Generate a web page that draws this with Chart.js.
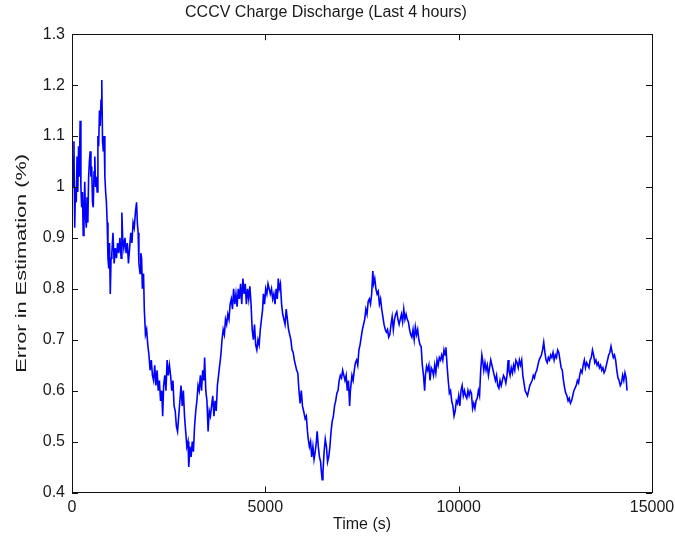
<!DOCTYPE html>
<html>
<head>
<meta charset="utf-8">
<title>CCCV Charge Discharge</title>
<script src="https://cdn.jsdelivr.net/npm/chart.js@4.4.1/dist/chart.umd.min.js"></script>
<style>
  html, body { margin: 0; padding: 0; background: #fff; }
</style>
</head>
<body>
<canvas id="errChart" width="675" height="542"></canvas>
<script>
// values (time in seconds, error in %)
const timeSec = [
  0, 30, 50, 70, 90, 110, 130, 150, 170, 190,
  210, 230, 250, 270, 290, 310, 330, 350, 370, 390,
  410, 430, 450, 470, 490, 510, 530, 550, 570, 590,
  610, 630, 650, 670, 690, 710, 730, 750, 770, 790,
  810, 830, 850, 870, 890, 910, 930, 950, 970, 990,
  1010, 1030, 1060, 1090, 1120, 1150, 1180, 1210, 1240, 1270,
  1290, 1310, 1340, 1370, 1400, 1430, 1460, 1490, 1520, 1550,
  1580, 1610, 1640, 1670, 1690, 1710, 1730, 1760, 1780, 1800,
  1820, 1850, 1870, 1900, 1930, 1960, 1990, 2020, 2050, 2080,
  2110, 2140, 2170, 2200, 2230, 2260, 2290, 2320, 2345, 2370,
  2400, 2430, 2460, 2490, 2520, 2550, 2580, 2610, 2640, 2670,
  2700, 2730, 2760, 2790, 2820, 2850, 2880, 2910, 2940, 2970,
  3000, 3020, 3050, 3080, 3110, 3140, 3170, 3200, 3230, 3260,
  3290, 3320, 3350, 3380, 3410, 3430, 3460, 3490, 3520, 3550,
  3580, 3610, 3640, 3670, 3700, 3730, 3760, 3790, 3820, 3850,
  3880, 3910, 3940, 3970, 4000, 4030, 4060, 4090, 4120, 4150,
  4180, 4210, 4240, 4270, 4300, 4330, 4360, 4390, 4420, 4450,
  4480, 4510, 4540, 4570, 4600, 4630, 4660, 4690, 4720, 4750,
  4780, 4810, 4840, 4870, 4900, 4930, 4950, 4980, 5010, 5040,
  5070, 5100, 5130, 5160, 5190, 5220, 5250, 5280, 5310, 5335,
  5360, 5390, 5420, 5450, 5480, 5510, 5540, 5570, 5600, 5630,
  5660, 5690, 5720, 5750, 5780, 5810, 5840, 5870, 5900, 5930,
  5960, 5990, 6030, 6060, 6090, 6110, 6140, 6170, 6200, 6230,
  6260, 6290, 6320, 6340, 6370, 6400, 6430, 6450, 6470, 6490,
  6520, 6550, 6580, 6610, 6640, 6670, 6700, 6730, 6760, 6790,
  6820, 6850, 6880, 6910, 6940, 6970, 7000, 7030, 7060, 7090,
  7120, 7150, 7180, 7200, 7240, 7270, 7300, 7330, 7360, 7390,
  7420, 7450, 7480, 7510, 7540, 7570, 7600, 7630, 7660, 7690,
  7720, 7750, 7780, 7800, 7830, 7860, 7890, 7920, 7950, 7980,
  8010, 8040, 8070, 8100, 8130, 8160, 8190, 8220, 8250, 8280,
  8310, 8340, 8370, 8400, 8430, 8460, 8490, 8520, 8550, 8580,
  8610, 8640, 8670, 8700, 8730, 8760, 8790, 8820, 8850, 8880,
  8910, 8940, 8970, 9000, 9030, 9060, 9090, 9120, 9140, 9170,
  9200, 9230, 9260, 9290, 9320, 9350, 9380, 9410, 9440, 9470,
  9500, 9530, 9560, 9590, 9620, 9650, 9670, 9700, 9730, 9760,
  9790, 9820, 9850, 9880, 9910, 9940, 9970, 10000, 10030, 10060,
  10090, 10120, 10150, 10180, 10210, 10240, 10270, 10300, 10330, 10360,
  10390, 10420, 10450, 10480, 10510, 10540, 10570, 10600, 10620, 10650,
  10680, 10710, 10740, 10770, 10800, 10830, 10860, 10890, 10920, 10950,
  10980, 11010, 11040, 11070, 11100, 11130, 11160, 11190, 11220, 11250,
  11280, 11300, 11330, 11360, 11390, 11420, 11450, 11480, 11510, 11540,
  11570, 11600, 11630, 11660, 11690, 11720, 11750, 11780, 11810, 11840,
  11870, 11900, 11930, 11960, 11990, 12020, 12050, 12080, 12110, 12140,
  12170, 12200, 12230, 12260, 12290, 12320, 12350, 12380, 12410, 12440,
  12470, 12500, 12530, 12560, 12590, 12620, 12650, 12680, 12710, 12740,
  12770, 12800, 12830, 12860, 12890, 12920, 12950, 12980, 13010, 13040,
  13070, 13100, 13130, 13160, 13190, 13220, 13250, 13280, 13310, 13340,
  13370, 13400, 13430, 13460, 13490, 13520, 13550, 13580, 13610, 13640,
  13670, 13700, 13730, 13760, 13790, 13820, 13850, 13880, 13910, 13940,
  13970, 14000, 14030, 14060, 14090, 14120, 14150, 14180, 14210, 14240,
  14270, 14300, 14330, 14355
];

const errorPct = [
  1.08, 1.0, 1.09, 0.92, 1.0, 0.97, 1.06, 0.99, 1.08, 1.02,
  1.13, 1.0, 0.96, 0.99, 0.905, 0.95, 1.01, 0.94, 0.92, 0.98,
  0.93, 1.02, 1.05, 1.07, 1.02, 1.04, 0.97, 0.96, 1.03, 1.06,
  1.0, 1.02, 0.99, 1.1, 1.08, 1.15, 1.12, 1.17, 1.21, 1.09,
  1.07, 1.1, 1.02, 0.99, 0.97, 0.93, 0.86, 0.84, 0.89, 0.79,
  0.86, 0.87, 0.91, 0.85, 0.88, 0.86, 0.89, 0.87, 0.9, 0.86,
  0.95, 0.9, 0.88, 0.9, 0.87, 0.89, 0.85, 0.88, 0.91, 0.89,
  0.93, 0.92, 0.95, 0.97, 0.93, 0.91, 0.85, 0.83, 0.87, 0.86,
  0.8, 0.83, 0.76, 0.71, 0.72, 0.69, 0.67, 0.64, 0.66, 0.63,
  0.62, 0.65, 0.61, 0.64, 0.6, 0.62, 0.58, 0.6, 0.55, 0.61,
  0.63, 0.6, 0.66, 0.63, 0.65, 0.63, 0.6, 0.62, 0.57, 0.56,
  0.53, 0.52, 0.55, 0.58, 0.61, 0.57, 0.6, 0.55, 0.52, 0.49,
  0.5, 0.45, 0.49, 0.47, 0.5, 0.48, 0.53, 0.56, 0.58, 0.61,
  0.6, 0.63, 0.6, 0.64, 0.62, 0.665, 0.6, 0.58, 0.52, 0.56,
  0.55, 0.57, 0.59, 0.55, 0.58, 0.56, 0.61, 0.63, 0.65, 0.67,
  0.7, 0.72, 0.71, 0.74, 0.73, 0.75, 0.74, 0.77, 0.78, 0.76,
  0.8, 0.77, 0.79, 0.765, 0.8, 0.78, 0.81, 0.77, 0.82, 0.79,
  0.81, 0.77, 0.8, 0.78, 0.805, 0.77, 0.72, 0.7, 0.73, 0.69,
  0.68, 0.7, 0.69, 0.72, 0.74, 0.76, 0.79, 0.77, 0.8, 0.79,
  0.81, 0.8, 0.79, 0.8, 0.78, 0.79, 0.77, 0.8, 0.78, 0.82,
  0.8, 0.81, 0.77, 0.75, 0.74, 0.73, 0.76, 0.74, 0.72, 0.71,
  0.7, 0.68, 0.675, 0.66, 0.65, 0.64, 0.635, 0.6, 0.575, 0.6,
  0.57, 0.56, 0.545, 0.55, 0.52, 0.505, 0.49, 0.5, 0.47, 0.49,
  0.465, 0.48, 0.5, 0.52, 0.49, 0.47, 0.46, 0.44, 0.425, 0.44,
  0.48, 0.505, 0.49, 0.46, 0.47, 0.49, 0.52, 0.54, 0.55, 0.57,
  0.58, 0.595, 0.6, 0.62, 0.63, 0.625, 0.64, 0.63, 0.62, 0.63,
  0.6, 0.62, 0.57, 0.6, 0.63, 0.62, 0.64, 0.655, 0.66, 0.65,
  0.68, 0.69, 0.705, 0.72, 0.73, 0.74, 0.76, 0.75, 0.775, 0.78,
  0.77, 0.79, 0.835, 0.81, 0.82, 0.8, 0.79, 0.795, 0.77, 0.78,
  0.76, 0.745, 0.73, 0.72, 0.715, 0.72, 0.705, 0.71, 0.73, 0.745,
  0.72, 0.74, 0.75, 0.755, 0.74, 0.73, 0.74, 0.75, 0.735, 0.76,
  0.74, 0.75, 0.74, 0.735, 0.72, 0.71, 0.705, 0.72, 0.7, 0.725,
  0.71, 0.72, 0.7, 0.69, 0.687, 0.65, 0.63, 0.6, 0.63, 0.648,
  0.64, 0.65, 0.62, 0.645, 0.64, 0.63, 0.65, 0.635, 0.66, 0.65,
  0.665, 0.66, 0.67, 0.66, 0.68, 0.67, 0.685, 0.65, 0.62, 0.595,
  0.6, 0.58, 0.57, 0.55, 0.56, 0.58, 0.575, 0.59, 0.57, 0.6,
  0.61, 0.59, 0.6, 0.59, 0.585, 0.6, 0.59, 0.6, 0.595, 0.565,
  0.575, 0.565, 0.58, 0.585, 0.6, 0.59, 0.64, 0.67, 0.66, 0.64,
  0.655, 0.64, 0.65, 0.63, 0.645, 0.66, 0.65, 0.64, 0.63, 0.62,
  0.63, 0.61, 0.605, 0.62, 0.61, 0.62, 0.63, 0.625, 0.615, 0.63,
  0.66, 0.64, 0.63, 0.645, 0.635, 0.65, 0.64, 0.66, 0.655, 0.645,
  0.66, 0.65, 0.66, 0.63, 0.615, 0.6, 0.595, 0.59, 0.6, 0.61,
  0.615, 0.62, 0.63, 0.625, 0.635, 0.64, 0.65, 0.66, 0.665, 0.67,
  0.68, 0.695, 0.675, 0.66, 0.655, 0.665, 0.66, 0.67, 0.665, 0.675,
  0.66, 0.67, 0.665, 0.68, 0.675, 0.66, 0.645, 0.64, 0.62, 0.605,
  0.595, 0.59, 0.58, 0.585, 0.575, 0.58, 0.59, 0.6, 0.605, 0.61,
  0.62, 0.615, 0.63, 0.64, 0.635, 0.65, 0.66, 0.645, 0.655, 0.65,
  0.645, 0.66, 0.665, 0.68, 0.67, 0.655, 0.66, 0.65, 0.655, 0.645,
  0.65, 0.64, 0.645, 0.635, 0.64, 0.65, 0.66, 0.67, 0.675, 0.687,
  0.675, 0.665, 0.67, 0.66, 0.64, 0.625, 0.62, 0.61, 0.615, 0.63,
  0.62, 0.635, 0.625, 0.6
];

const xTicks = [0, 5000, 10000, 15000];
const yTicks = [0.4, 0.5, 0.6, 0.7, 0.8, 0.9, 1.0, 1.1, 1.2, 1.3];
const yTitle = "Error in Estimation (%)";

const FONT = "'Liberation Sans', Arial, Helvetica, sans-serif";
const TEXT_COLOR = "#1a1a1a";

// matlab style box around the axes with ticks pointing inwards
const boxTicks = {
  id: "boxTicks",
  afterDatasetsDraw(chart) {
    const { ctx, chartArea: a, scales } = chart;
    const len = 6;
    ctx.save();
    ctx.strokeStyle = "#111";
    ctx.lineWidth = 1;
    ctx.beginPath();
    xTicks.forEach(v => {
      const x = Math.round(scales.x.getPixelForValue(v)) + 0.5;
      ctx.moveTo(x, a.bottom); ctx.lineTo(x, a.bottom - len);
      ctx.moveTo(x, a.top); ctx.lineTo(x, a.top + len);
    });
    yTicks.forEach(v => {
      const y = Math.round(scales.y.getPixelForValue(v)) + 0.5;
      ctx.moveTo(a.left, y); ctx.lineTo(a.left + len, y);
      ctx.moveTo(a.right, y); ctx.lineTo(a.right - len, y);
    });
    ctx.stroke();
    ctx.strokeRect(Math.round(a.left) + 0.5, Math.round(a.top) + 0.5,
      Math.round(a.right - a.left), Math.round(a.bottom - a.top));

    // y label: the old matlab export stretches rotated text along its length
    ctx.translate(22, (a.top + a.bottom) / 2);
    ctx.rotate(-Math.PI / 2);
    ctx.scale(1.45, 1);
    ctx.font = "15px " + FONT;
    ctx.fillStyle = TEXT_COLOR;
    ctx.textAlign = "center";
    ctx.textBaseline = "middle";
    ctx.fillText(yTitle, 0, 0);
    ctx.restore();
  }
};

const points = timeSec.map((t, i) => ({ x: t, y: errorPct[i] }));

new Chart(document.getElementById("errChart"), {
  type: "line",
  data: {
    datasets: [{
      data: points,
      borderColor: "#0000ff",
      borderWidth: 1.6,
      pointRadius: 0,
      tension: 0,
      fill: false
    }]
  },
  options: {
    responsive: false,
    animation: false,
    layout: { padding: { top: 0, right: 23, bottom: 0, left: 0 } },
    plugins: {
      legend: { display: false },
      tooltip: { enabled: false },
      title: {
        display: true,
        text: "CCCV Charge Discharge (Last 4 hours)",
        color: TEXT_COLOR,
        font: { family: FONT, size: 16, weight: "normal" },
        padding: { top: 3, bottom: 12 }
      }
    },
    scales: {
      x: {
        type: "linear",
        min: 0,
        max: 15000,
        afterFit: s => {
          s.height = 49.5;
          // let the last label hang into the right margin like the original
          s.paddingLeft = 0;
          s.paddingRight = 0;
        },
        afterBuildTicks: s => { s.ticks = xTicks.map(v => ({ value: v })); },
        grid: { display: false, drawTicks: false, tickLength: 0 },
        border: { display: false },
        ticks: {
          color: TEXT_COLOR,
          font: { family: FONT, size: 16 },
          padding: 5,
          maxRotation: 0,
          callback: v => String(v)
        },
        title: {
          display: true,
          text: "Time (s)",
          color: TEXT_COLOR,
          font: { family: FONT, size: 16 },
          padding: { top: 0, bottom: 8 }
        }
      },
      y: {
        type: "linear",
        min: 0.4,
        max: 1.3,
        afterFit: s => { s.width = 72; },
        afterBuildTicks: s => { s.ticks = yTicks.map(v => ({ value: v })); },
        grid: { display: false, drawTicks: false, tickLength: 0 },
        border: { display: false },
        ticks: {
          color: TEXT_COLOR,
          font: { family: FONT, size: 16 },
          padding: 7,
          callback: v => (v === 1 ? "1" : v.toFixed(1))
        }
      }
    }
  },
  plugins: [boxTicks]
});
</script>
</body>
</html>
